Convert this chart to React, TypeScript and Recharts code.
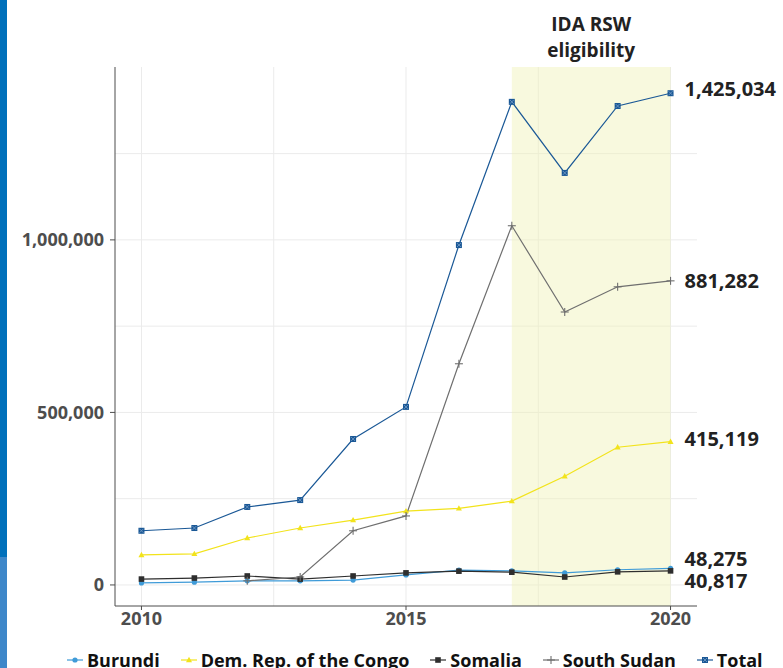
import React from 'react';
import { LineChart, Line, XAxis, YAxis, CartesianGrid, ReferenceArea, LabelList } from 'recharts';

const years = [2010, 2011, 2012, 2013, 2014, 2015, 2016, 2017, 2018, 2019, 2020];
const burundi = [6000, 8000, 12000, 12000, 14000, 29000, 43000, 41000, 35000, 44000, 48275];
const drc = [87000, 90000, 136000, 165000, 188000, 214000, 222000, 243000, 315000, 399000, 415119];
const somalia = [17000, 20000, 26000, 17000, 26000, 35000, 40000, 37000, 23000, 38000, 40817];
const southSudan = [null, null, 12000, 23000, 157000, 200000, 641000, 1041000, 791000, 864000, 881282];
const total = [157000, 165000, 226000, 246000, 423000, 516000, 985000, 1400000, 1194000, 1388000, 1425034];

const xTicks = [2010, 2015, 2020];
const xGrid = [2010, 2012.5, 2015, 2017.5, 2020];
const yTicks = [0, 500000, 1000000];
const yGrid = [0, 250000, 500000, 750000, 1000000, 1250000];

const data = years.map((year, i) => ({
  year,
  burundi: burundi[i],
  drc: drc[i],
  somalia: somalia[i],
  southSudan: southSudan[i],
  total: total[i],
}));

const FONT = '"Open Sans", sans-serif';
const fmt = (v: number) => v.toLocaleString('en-US');

// marker shapes
const Marker = ({ shape, cx, cy, color }: { shape: string; cx: number; cy: number; color: string }) => {
  if (cx == null || cy == null) return null;
  if (shape === 'circle') return <circle cx={cx} cy={cy} r={2.6} fill={color} />;
  if (shape === 'triangle')
    return <polygon points={`${cx},${cy - 3.2} ${cx - 3},${cy + 2.2} ${cx + 3},${cy + 2.2}`} fill={color} />;
  if (shape === 'square') return <rect x={cx - 2.8} y={cy - 2.8} width={5.6} height={5.6} fill={color} />;
  if (shape === 'plus')
    return (
      <g stroke={color} strokeWidth={1.1}>
        <line x1={cx - 4} y1={cy} x2={cx + 4} y2={cy} />
        <line x1={cx} y1={cy - 4} x2={cx} y2={cy + 4} />
      </g>
    );
  // boxed x
  return (
    <g>
      <rect x={cx - 3} y={cy - 3} width={6} height={6} fill={color} />
      <line x1={cx - 2} y1={cy - 2} x2={cx + 2} y2={cy + 2} stroke="#7aa0c8" strokeWidth={0.8} />
      <line x1={cx - 2} y1={cy + 2} x2={cx + 2} y2={cy - 2} stroke="#7aa0c8" strokeWidth={0.8} />
    </g>
  );
};

const series = [
  { key: 'burundi', name: 'Burundi', color: '#3f9bd8', shape: 'circle', dy: -10 },
  { key: 'drc', name: 'Dem. Rep. of the Congo', color: '#f2e31b', shape: 'triangle', dy: -3 },
  { key: 'somalia', name: 'Somalia', color: '#2e2e2e', shape: 'square', dy: 10 },
  { key: 'southSudan', name: 'South Sudan', color: '#6f6f6f', shape: 'plus', dy: 0 },
  { key: 'total', name: 'Total', color: '#1a5896', shape: 'boxx', dy: -5 },
];

const LegendRow = () => (
  <div
    style={{
      position: 'absolute',
      left: 66,
      top: 648,
      display: 'flex',
      whiteSpace: 'nowrap',
      fontFamily: FONT,
      fontWeight: 700,
      fontSize: 18,
      color: '#111',
    }}
  >
    {series.map((s) => (
      <div key={s.key} style={{ display: 'flex', alignItems: 'center', marginRight: 20 }}>
        <svg width={18} height={10} style={{ marginRight: 3 }}>
          <line x1={1} y1={5} x2={17} y2={5} stroke={s.color} strokeWidth={1.2} />
          <Marker shape={s.shape} cx={9} cy={5} color={s.color} />
        </svg>
        <span>{s.name}</span>
      </div>
    ))}
  </div>
);

const EndLabel = (dy: number) => (props: any) => {
  const { x, y, index, value } = props;
  if (index !== years.length - 1) return null;
  return (
    <text
      x={x + 14}
      y={y + dy}
      dominantBaseline="central"
      fontFamily={FONT}
      fontWeight={700}
      fontSize={20}
      fill="#222"
    >
      {fmt(value)}
    </text>
  );
};

const ShadeLabel = (props: any) => {
  const { viewBox } = props;
  const cx = viewBox.x + viewBox.width / 2;
  return (
    <text x={cx} textAnchor="middle" fontFamily={FONT} fontWeight={700} fontSize={19} fill="#222">
      <tspan x={cx} y={viewBox.y - 36}>IDA RSW</tspan>
      <tspan x={cx} y={viewBox.y - 10}>eligibility</tspan>
    </text>
  );
};

const App: React.FC = () => {
  return (
    <div style={{ position: 'absolute', left: 0, top: 0, width: 783, height: 668, overflow: 'hidden', background: '#fff' }}>
      <div style={{ position: 'absolute', left: 0, top: 0, width: 7, height: 557, background: '#0070bb' }} />
      <div style={{ position: 'absolute', left: 0, top: 557, width: 7, height: 111, background: '#3e87c9' }} />
      <LineChart width={783} height={668} data={data} margin={{ top: 67, right: 86, bottom: 0, left: 0 }}>
        <CartesianGrid stroke="#ebebeb" strokeWidth={1} verticalValues={xGrid} horizontalValues={yGrid} />
        <ReferenceArea
          x1={2017}
          x2={2020}
          fill="#eff1b5"
          fillOpacity={0.45}
          stroke="none"
          ifOverflow="visible"
          label={<ShadeLabel />}
        />
        <XAxis
          dataKey="year"
          type="number"
          domain={[2009.5, 2020.5]}
          ticks={xTicks}
          allowDataOverflow
          stroke="#4d4d4d"
          tickSize={4}
          tickMargin={2}
          tick={{ fill: '#4d4d4d', fontFamily: FONT, fontWeight: 700, fontSize: 18 }}
          height={62}
        />
        <YAxis
          type="number"
          domain={[-61000, 1501000]}
          ticks={yTicks}
          allowDataOverflow
          tickFormatter={fmt}
          stroke="#4d4d4d"
          tickSize={5}
          tickMargin={6}
          width={115}
          tick={{ fill: '#4d4d4d', fontFamily: FONT, fontWeight: 700, fontSize: 18 }}
        />
        {series.map((s) => (
          <Line
            key={s.key}
            dataKey={s.key}
            name={s.name}
            stroke={s.color}
            strokeWidth={1.2}
            isAnimationActive={false}
            connectNulls={false}
            dot={(p: any) => <Marker key={`${s.key}-${p.index}`} shape={s.shape} cx={p.cx} cy={p.cy} color={s.color} />}
            activeDot={false}
          >
            <LabelList dataKey={s.key} content={EndLabel(s.dy)} />
          </Line>
        ))}
      </LineChart>
      <LegendRow />
    </div>
  );
};

export default App;
